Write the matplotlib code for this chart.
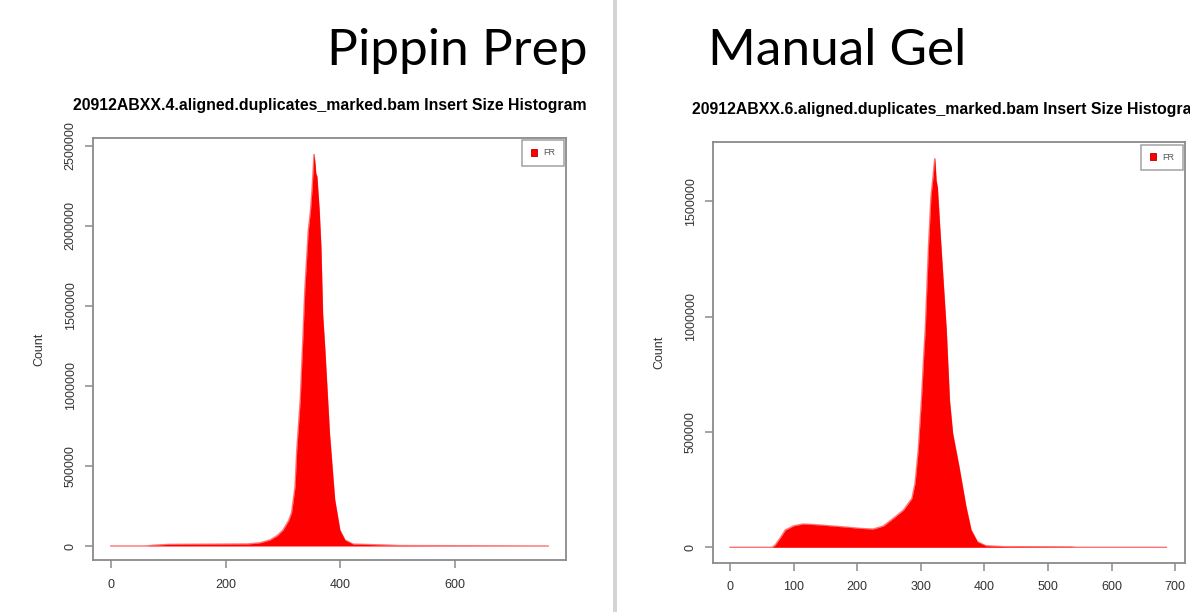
import matplotlib
matplotlib.use("Agg")
import matplotlib.pyplot as plt
from matplotlib.patches import Patch, Rectangle

# ---- data ----
pippin_size = [0, 60, 75, 100, 150, 200, 240, 260, 277, 290, 300, 310, 315, 321, 324, 330,
               335, 338, 344, 348, 351, 354, 356, 357, 359, 363, 366, 369, 373, 381, 390,
               399, 408, 422, 480, 500, 762]
pippin_count = [0, 0, 5000, 10000, 11000, 12000, 13000, 20000, 37000, 65000, 100000, 160000,
                210000, 370000, 600000, 910000, 1330000, 1600000, 1970000, 2100000, 2250000,
                2450000, 2380000, 2330000, 2310000, 2100000, 1870000, 1450000, 1220000, 700000,
                290000, 100000, 37000, 12000, 6000, 3000, 0]

gel_size = [0, 60, 66, 71, 80, 87, 100, 115, 140, 162, 185, 204, 225, 241, 257, 273, 286, 291,
            296, 301, 305, 307, 309, 312, 316, 319, 322, 324, 326, 330, 335, 340, 345, 350,
            360, 371, 379, 389, 402, 430, 536, 545, 686]
gel_count = [0, 0, 0, 10000, 45000, 75000, 93000, 101000, 97000, 92000, 87000, 82000, 79000,
             92000, 126000, 162000, 212000, 278000, 422000, 638000, 850000, 942000, 1086000,
             1300000, 1520000, 1600000, 1686000, 1590000, 1560000, 1375000, 1158000, 942000,
             638000, 494000, 349000, 176000, 75000, 24000, 7000, 3000, 2000, 0, 0]

panel_titles = ["Pippin Prep", "Manual Gel"]
plot_titles = ["20912ABXX.4.aligned.duplicates_marked.bam Insert Size Histogram",
               "20912ABXX.6.aligned.duplicates_marked.bam Insert Size Histogram"]
pippin_xticks = [0, 200, 400, 600]
gel_xticks = [0, 100, 200, 300, 400, 500, 600, 700]
pippin_yticks = [0, 500000, 1000000, 1500000, 2000000, 2500000]
gel_yticks = [0, 500000, 1000000, 1500000]
legend_label = "FR"

W, H = 1190, 612
fig = plt.figure(figsize=(W / 100, H / 100), dpi=100)
fig.patch.set_facecolor("white")

AX_COL = "#8a8a8a"
TXT_COL = "#333333"
RED = "#ff0000"


def px_rect(l, t, r, b):
    return [l / W, (H - b) / H, (r - l) / W, (b - t) / H]


def make_panel(rect, xs, ys, xlim, ylim, xticks, yticks, title):
    ax = fig.add_axes(rect)
    ax.fill_between(xs, ys, 0, color=RED, lw=0)
    ax.plot(xs, ys, color=RED, lw=1.0, alpha=0.55, solid_joinstyle="miter")
    ax.set_xlim(*xlim)
    ax.set_ylim(*ylim)
    ax.set_xticks(xticks)
    ax.set_yticks(yticks)
    ax.set_xticklabels([str(v) for v in xticks], fontsize=9, color=TXT_COL,
                       family="Liberation Sans")
    ax.set_yticklabels([str(v) for v in yticks], fontsize=9, color=TXT_COL,
                       rotation=90, va="center", family="Liberation Sans")
    ax.tick_params(axis="both", direction="out", length=5.5, width=1.1, color=AX_COL, pad=6)
    ax.tick_params(axis="x", pad=8)
    for sp in ax.spines.values():
        sp.set_color(AX_COL)
        sp.set_linewidth(1.3)
    ax.set_ylabel("Count", fontsize=9, color=TXT_COL, family="Liberation Sans", labelpad=14)
    ax.set_title(title, fontsize=11.4, fontweight="bold", color="black",
                 family="Liberation Sans", pad=20.5)
    leg = ax.legend(handles=[Patch(facecolor=RED, edgecolor="#b00000", lw=0.6, label=legend_label)],
                    loc="upper right", borderaxespad=0.25, frameon=True,
                    fancybox=False, handlelength=0.75, handleheight=0.75, handletextpad=0.7,
                    borderpad=0.9, prop={"family": "Liberation Sans", "size": 6.5})
    leg.get_frame().set_edgecolor(AX_COL)
    leg.get_frame().set_linewidth(1.1)
    for t in leg.get_texts():
        t.set_color("#555555")
    return ax


make_panel(px_rect(92.7, 138, 566, 560), pippin_size, pippin_count,
           (-31.5, 793), (-87500, 2550000), pippin_xticks, pippin_yticks, plot_titles[0])
make_panel(px_rect(712.7, 142.3, 1185, 562.7), gel_size, gel_count,
           (-27.2, 715.4), (-66700, 1755000), gel_xticks, gel_yticks, plot_titles[1])

# separator bar
fig.add_artist(Rectangle((613 / W, 0), 4.5 / W, 1, transform=fig.transFigure,
                         facecolor="#d4d4d4", edgecolor="none"))

# big headings
fig.text(327 / W, (H - 65) / H, panel_titles[0], fontsize=37, family="Lato",
         fontweight="normal", ha="left", va="baseline", color="black")
fig.text(708 / W, (H - 65) / H, panel_titles[1], fontsize=37, family="Lato",
         fontweight="normal", ha="left", va="baseline", color="black")

fig.savefig("out.png", dpi=100, facecolor="white")
